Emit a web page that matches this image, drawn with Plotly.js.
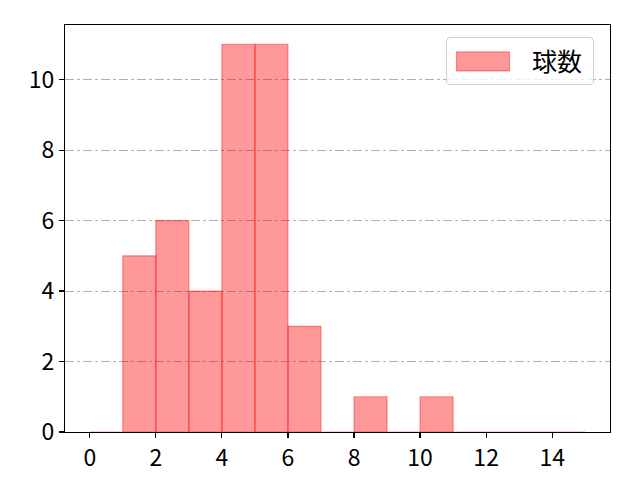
<!DOCTYPE html>
<html>
<head>
<meta charset="utf-8">
<script src="https://cdn.plot.ly/plotly-3.0.1.min.js"></script>
<style>html,body{margin:0;padding:0;background:#fff;}#chart{width:640px;height:480px;}</style>
</head>
<body>
<div id="chart"></div>
<script>
// histogram bins (left edges) and counts
const binStarts = [0,1,2,3,4,5,6,7,8,9,10,11,12,13,14];
const counts    = [0,5,6,4,11,11,3,0,1,0,1,0,0,0,0];
const seriesName = '球数';
const xTicks = [0,2,4,6,8,10,12,14];
const yTicks = [0,2,4,6,8,10];

const font = '"Noto Sans CJK JP", "Noto Sans", sans-serif';

const trace = {
  type: 'bar',
  x: binStarts.map(b => b + 0.5),
  y: counts,
  width: 1,
  name: seriesName,
  marker: {color: 'rgba(255,0,0,0.4)', line: {color: 'rgba(255,0,0,0.4)', width: 1.2}},
  showlegend: true,
  hoverinfo: 'x+y'
};

const layout = {
  width: 640, height: 480,
  margin: {l: 65, r: 30, t: 25, b: 48},
  paper_bgcolor: '#fff', plot_bgcolor: '#fff',
  font: {family: font, size: 24, color: '#000'},
  bargap: 0,
  xaxis: {
    range: [-0.75, 15.75], tickvals: xTicks, ticktext: xTicks.map(String),
    showgrid: false, zeroline: false,
    showline: true, linecolor: '#000', linewidth: 1.2, mirror: true,
    ticks: 'outside', ticklen: 5, tickcolor: '#000', tickwidth: 1.2,
    tickfont: {family: font, size: 23}
  },
  yaxis: {
    range: [0, 11.55], tickvals: yTicks, ticktext: yTicks.map(String),
    showgrid: true, gridcolor: '#b0b0b0', gridwidth: 1, griddash: 'dashdot',
    zeroline: false,
    showline: true, linecolor: '#000', linewidth: 1.2, mirror: true,
    ticks: 'outside', ticklen: 5, tickcolor: '#000', tickwidth: 1.2,
    tickfont: {family: font, size: 23}
  },
  legend: {
    x: 0.9615, y: 0.97, xanchor: 'right', yanchor: 'top',
    bgcolor: 'rgba(255,255,255,0.8)', bordercolor: '#d0d0d0', borderwidth: 1,
    itemwidth: 75,
    font: {family: font, size: 25}
  },
  showlegend: true
};

Plotly.newPlot('chart', [trace], layout, {displayModeBar: false, staticPlot: true}).then(function(gd){
  // widen the legend swatch to a matplotlib-like rectangle, rounded legend frame
  gd.querySelectorAll('.legend .legendpoints path').forEach(function(p){
    p.setAttribute('d', 'M-33,10H20V-9H-33Z');
  });
  gd.querySelectorAll('.legend rect.bg').forEach(function(r){
    r.setAttribute('rx', 4); r.setAttribute('ry', 4);
    const w = parseFloat(r.getAttribute('width'));
    r.setAttribute('width', w + 5);
  });
});
</script>
</body>
</html>
